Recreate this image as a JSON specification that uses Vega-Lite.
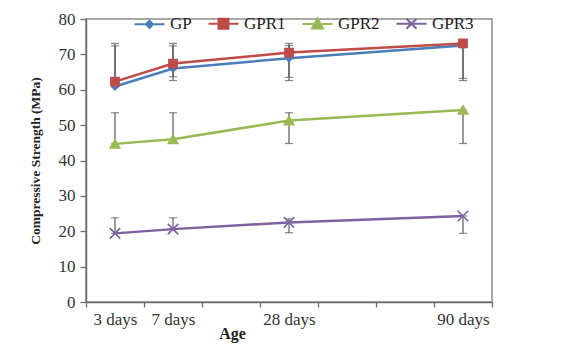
{
  "$schema": "https://vega.github.io/schema/vega-lite/v6.json",
  "width": 406,
  "height": 283,
  "autosize": "none",
  "padding": {"left": 86, "top": 19, "right": 95, "bottom": 42},
  "background": "white",
  "config": {
    "view": {"stroke": "#8c8c8c", "strokeWidth": 1.5},
    "font": "Liberation Serif",
    "axisY": {
      "tickCount": 8,
      "labelOverlap": false,
      "labelFont": "Liberation Serif",
      "labelFontSize": 17,
      "labelColor": "#333",
      "labelPadding": 5,
      "tickSize": 6,
      "tickColor": "#6d6d6d",
      "tickWidth": 1.3,
      "domainColor": "#6d6d6d",
      "domainWidth": 1.5,
      "grid": false,
      "titleFont": "Liberation Serif",
      "titleFontSize": 13.5,
      "titleFontWeight": "bold",
      "titleColor": "#222",
      "titlePadding": 16
    }
  },
  "data": {
    "values": [
      {"age": "3 days", "series": "GP", "marker": "diamond", "value": 60.9, "lo": 60.9, "hi": 72.4},
      {"age": "7 days", "series": "GP", "marker": "diamond", "value": 66.0, "lo": 62.6, "hi": 72.4},
      {"age": "28 days", "series": "GP", "marker": "diamond", "value": 68.9, "lo": 62.6, "hi": 72.5},
      {"age": "90 days", "series": "GP", "marker": "diamond", "value": 72.5, "lo": 62.6, "hi": 72.5},
      {"age": "3 days", "series": "GPR1", "marker": "square", "value": 62.3, "lo": 62.3, "hi": 73.1},
      {"age": "7 days", "series": "GPR1", "marker": "square", "value": 67.4, "lo": 63.7, "hi": 73.1},
      {"age": "28 days", "series": "GPR1", "marker": "square", "value": 70.5, "lo": 63.5, "hi": 73.1},
      {"age": "90 days", "series": "GPR1", "marker": "square", "value": 73.1, "lo": 63.2, "hi": 73.1},
      {"age": "3 days", "series": "GPR2", "marker": "triangle", "value": 44.7, "lo": 44.7, "hi": 53.5},
      {"age": "7 days", "series": "GPR2", "marker": "triangle", "value": 46.0, "lo": 46.0, "hi": 53.5},
      {"age": "28 days", "series": "GPR2", "marker": "triangle", "value": 51.3, "lo": 44.8, "hi": 53.5},
      {"age": "90 days", "series": "GPR2", "marker": "triangle", "value": 54.3, "lo": 44.8, "hi": 54.3},
      {"age": "3 days", "series": "GPR3", "marker": "x", "value": 19.4, "lo": 19.4, "hi": 23.8},
      {"age": "7 days", "series": "GPR3", "marker": "x", "value": 20.6, "lo": 20.6, "hi": 23.8},
      {"age": "28 days", "series": "GPR3", "marker": "x", "value": 22.5, "lo": 19.6, "hi": 23.5},
      {"age": "90 days", "series": "GPR3", "marker": "x", "value": 24.3, "lo": 19.4, "hi": 24.3}
    ]
  },
  "encoding": {
    "x": {
      "field": "age",
      "type": "nominal",
      "scale": {
        "type": "band",
        "domain": ["3 days", "7 days", " ", "28 days", "  ", "   ", "90 days"],
        "paddingInner": 0,
        "paddingOuter": 0
      },
      "axis": {
        "title": "Age",
        "titleFont": "Liberation Serif",
        "titleFontSize": 16,
        "titleFontWeight": "bold",
        "titleColor": "#222",
        "titleX": 146,
        "titleY": 36,
        "titleBaseline": "alphabetic",
        "labelAngle": 0,
        "labelFont": "Liberation Serif",
        "labelFontSize": 17,
        "labelColor": "#333",
        "labelPadding": 4,
        "labelOverlap": false,
        "tickBand": "extent",
        "tickSize": 5,
        "tickColor": "#6d6d6d",
        "tickWidth": 1.3,
        "domainColor": "#6d6d6d",
        "domainWidth": 1.5,
        "grid": false
      }
    }
  },
  "layer": [
    {
      "mark": {"type": "rule", "color": "#595959", "strokeWidth": 1.2},
      "encoding": {
        "y": {
          "field": "lo",
          "type": "quantitative",
          "scale": {"domain": [0, 80], "nice": false},
          "title": "Compressive Strength (MPa)"
        },
        "y2": {"field": "hi"}
      }
    },
    {
      "mark": {"type": "tick", "orient": "horizontal", "color": "#595959", "size": 8, "thickness": 1.2},
      "encoding": {"y": {"field": "hi", "type": "quantitative", "title": "Compressive Strength (MPa)"}}
    },
    {
      "mark": {"type": "tick", "orient": "horizontal", "color": "#595959", "size": 8, "thickness": 1.2},
      "encoding": {"y": {"field": "lo", "type": "quantitative", "title": "Compressive Strength (MPa)"}}
    },
    {
      "mark": {"type": "line", "strokeWidth": 2.5},
      "encoding": {
        "y": {"field": "value", "type": "quantitative", "title": "Compressive Strength (MPa)"},
        "color": {
          "field": "series",
          "type": "nominal",
          "scale": {"domain": ["GP", "GPR1", "GPR2", "GPR3"], "range": ["#4A7EBB", "#BE4B48", "#98B954", "#7D60A0"]},
          "legend": {
            "title": null,
            "orient": "none",
            "direction": "horizontal",
            "legendX": 55,
            "legendY": -4,
            "labelFont": "Liberation Serif",
            "labelFontSize": 17,
            "labelColor": "#222",
            "symbolSize": 100,
            "labelOffset": 12,
            "columnPadding": 12,
            "encode": {
              "symbols": {
                "update": {
                  "shape": {"signal": "datum.value === 'GP' ? 'M-3,0H3M0,-0.7L0.7,0L0,0.7L-0.7,0Z' : datum.value === 'GPR1' ? 'M-3,0H3M-1,-1H1V1H-1Z' : datum.value === 'GPR2' ? 'M-3,0H3M0,-1.1L1.1,0.9L-1.1,0.9Z' : 'M-3,0H3M-1,-1L1,1M-1,1L1,-1'"},
                  "fill": {"signal": "scale('color', datum.value)"},
                  "strokeWidth": {"value": 2},
                  "opacity": {"value": 1}
                }
              }
            }
          }
        }
      }
    },
    {
      "mark": {"type": "point", "filled": true, "opacity": 1, "strokeWidth": 1.6},
      "encoding": {
        "y": {"field": "value", "type": "quantitative", "title": "Compressive Strength (MPa)"},
        "fill": {
          "field": "marker",
          "type": "nominal",
          "scale": {"domain": ["diamond", "square", "triangle", "x"], "range": ["#4A7EBB", "#BE4B48", "#98B954", "#7D60A0"]},
          "legend": null
        },
        "stroke": {
          "field": "marker",
          "type": "nominal",
          "scale": {"domain": ["diamond", "square", "triangle", "x"], "range": ["#4A7EBB", "#BE4B48", "#98B954", "#7D60A0"]},
          "legend": null
        },
        "shape": {
          "field": "marker",
          "type": "nominal",
          "scale": {"domain": ["diamond", "square", "triangle", "x"], "range": ["diamond", "square", "triangle-up", "M-1,-1L1,1M-1,1L1,-1"]},
          "legend": null
        },
        "size": {
          "field": "marker",
          "type": "ordinal",
          "scale": {"domain": ["diamond", "square", "triangle", "x"], "range": [45, 110, 120, 100]},
          "legend": null
        }
      }
    }
  ]
}
